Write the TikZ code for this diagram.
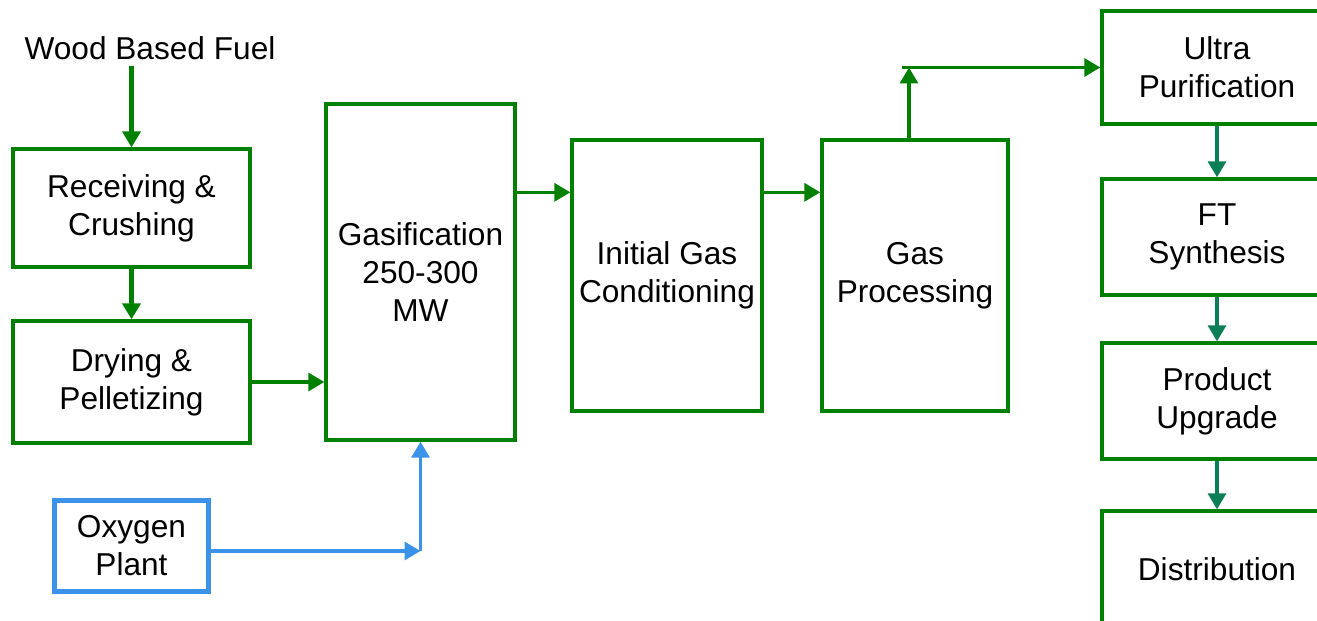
\documentclass[tikz,border=0pt]{standalone}
\usepackage{fontspec}
\setmainfont{Liberation Sans}
\usepackage{tikz}
\usetikzlibrary{arrows.meta,positioning,calc}
\definecolor{leaf}{HTML}{008000}
\definecolor{pine}{HTML}{0A7F55}
\definecolor{sky}{HTML}{3A93E8}
\tikzset{arr/.style={-{Triangle[length=3.2mm,width=3.6mm]},line width=1.9pt,draw=leaf},
  arrthick/.style={arr,line width=2.9pt},
  arrcol/.style={arr,draw=pine},
  o2arr/.style={-{Triangle[length=3.2mm,width=3.6mm]},line width=1.8pt,draw=sky},
  box/.style={draw=leaf,line width=1.9pt,fill=white,align=center,inner sep=4pt,
    font=\fontsize{18}{21.5}\selectfont,text=black},
  colbox/.style={box,minimum width=4.6cm,minimum height=2.32cm},
  o2box/.style={box,draw=sky,line width=3pt}}

\begin{document}
\begin{tikzpicture}
\clip (0,0) rectangle (26.34,-12.42);
\node[font=\fontsize{18}{21.5}\selectfont] (fuel) at (3.0,-0.96) {Wood Based Fuel};
\node[box,minimum width=4.74cm,minimum height=2.36cm] (receiving) at (2.63,-4.16) {Receiving \&\\Crushing};
\node[box,minimum width=4.74cm,minimum height=2.44cm] (drying) at (2.63,-7.64) {Drying \&\\Pelletizing};
\node[box,minimum width=3.78cm,minimum height=6.72cm] (gasif) at (8.41,-5.44) {Gasification\\250-300\\MW};
\node[box,minimum width=3.76cm,minimum height=5.42cm] (initial) at (13.34,-5.51) {Initial Gas\\Conditioning};
\node[box,minimum width=3.72cm,minimum height=5.42cm] (gasproc) at (18.30,-5.51) {Gas\\Processing};
\node[o2box,minimum width=3.08cm,minimum height=1.82cm] (oxygen) at (2.63,-10.92) {Oxygen\\Plant};
\node[colbox,minimum height=2.26cm] (ultra) at (24.34,-1.35) {Ultra\\Purification};
\node[colbox] (ft) at (24.34,-4.74) {FT\\Synthesis};
\node[colbox] (upgrade) at (24.34,-8.02) {Product\\Upgrade};
\node[colbox] (distrib) at (24.34,-11.38) {Distribution};
\coordinate (feed1) at ([yshift=-1.08cm]initial.north west);
\coordinate (feed2) at ([yshift=-1.08cm]gasproc.north west);
\coordinate (riser) at ([xshift=-0.12cm]gasproc.north |- ultra.west);
\coordinate (o2corner) at ([yshift=-0.1cm]gasif.south |- oxygen.east);
\draw[arrthick] (fuel.south -| receiving.north) -- (receiving.north);
\draw[arrthick] (receiving) -- (drying);
\draw[arr] (drying.east) -- (drying.east -| gasif.west);
\draw[o2arr] (oxygen.east |- o2corner) -- (o2corner);
\draw[o2arr] (o2corner) -- (gasif.south);
\draw[arr] (gasif.east |- feed1) -- (feed1);
\draw[arr] (initial.east |- feed2) -- (feed2);
\draw[arr] ([xshift=-0.12cm]gasproc.north) -- (riser);
\draw[arr] ([xshift=-0.14cm]riser) -- (ultra.west);
\draw[arrcol] (ultra) -- (ft);
\draw[arrcol] (ft) -- (upgrade);
\draw[arrcol] (upgrade) -- (distrib);
\end{tikzpicture}
\end{document}
